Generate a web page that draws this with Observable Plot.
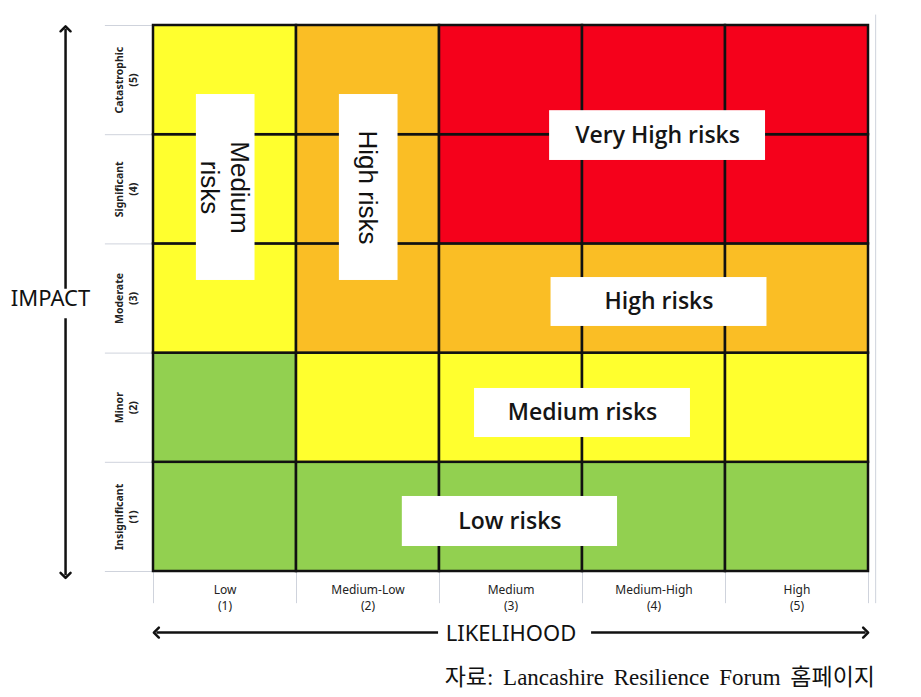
<!DOCTYPE html>
<html>
<head>
<meta charset="utf-8">
<script src="https://cdn.jsdelivr.net/npm/d3@7"></script>
<script src="https://cdn.jsdelivr.net/npm/@observablehq/plot@0.6"></script>
<style>
  html, body { margin: 0; padding: 0; background: white; }
  #caption {
    width: 921px; box-sizing: border-box; text-align: right; padding-right: 46px;
    font-family: "Liberation Serif", "Noto Sans CJK KR", serif; font-size: 23px;
    line-height: 26px; margin-top: 15px; word-spacing: 4px; color: #111;
  }
</style>
</head>
<body>
<div id="chart"></div>
<div id="caption">자료: Lancashire Resilience Forum 홈페이지</div>
<script>
// ---- data ----
const likelihood = ["Low", "Medium-Low", "Medium", "Medium-High", "High"];
const impact = ["Insignificant", "Minor", "Moderate", "Significant", "Catastrophic"];
// rows: impact 1..5, columns: likelihood 1..5
const riskGrid = [
  ["Low", "Low", "Low", "Low", "Low"],
  ["Low", "Medium", "Medium", "Medium", "Medium"],
  ["Medium", "High", "High", "High", "High"],
  ["Medium", "High", "Very High", "Very High", "Very High"],
  ["Medium", "High", "Very High", "Very High", "Very High"]
];
const levels = ["Low", "Medium", "High", "Very High"];
const levelColors = ["#92D050", "#FFFF2E", "#FABE25", "#F5011B"];
const zoneLabels = ["Medium\nrisks", "High risks", "Very High risks", "High risks", "Medium risks", "Low risks"];
// label boxes in (likelihood, impact) units
const zoneX1 = [0.80, 1.80, 3.27, 3.28, 2.745, 2.24];
const zoneX2 = [1.21, 2.21, 4.78, 4.79, 4.255, 3.745];
const zoneY1 = [3.165, 3.165, 4.264, 2.744, 1.727, 0.729];
const zoneY2 = [4.868, 4.868, 4.72, 3.192, 2.176, 1.187];
const zoneRotate = [90, 90, 0, 0, 0, 0];

// ---- derived tables ----
const cells = [];
riskGrid.forEach((row, i) => row.forEach((lvl, j) => cells.push({l: j + 1, im: i + 1, level: lvl})));
const zones = zoneLabels.map((t, k) => ({text: t, x1: zoneX1[k], x2: zoneX2[k], y1: zoneY1[k], y2: zoneY2[k], rotate: zoneRotate[k]}));
const vZones = zones.filter(d => d.rotate !== 0);
const hZones = zones.filter(d => d.rotate === 0);
const bounds = [0.5, 1.5, 2.5, 3.5, 4.5, 5.5];

// arrow decorations (in scale units)
const arrowSegs = [
  {x1: -0.115, y1: 3.09, x2: -0.115, y2: 5.47},
  {x1: -0.115, y1: 2.82, x2: -0.115, y2: 0.465},
  {x1: 2.49, y1: -0.059, x2: 0.52, y2: -0.059},
  {x1: 3.56, y1: -0.059, x2: 5.48, y2: -0.059}
];

const chart = Plot.plot({
  width: 921, height: 650,
  marginTop: 25, marginBottom: 79, marginLeft: 153, marginRight: 53,
  x: {domain: [0.5, 5.5], axis: null},
  y: {domain: [0.5, 5.5], axis: null},
  color: {domain: levels, range: levelColors},
  style: {fontFamily: "Noto Sans, sans-serif", background: "white", overflow: "visible", color: "#111"},
  marks: [
    // faint spreadsheet lines
    Plot.link(bounds, {x1: 0.16, x2: 0.5, y1: d => d, y2: d => d, stroke: "#cfd3dc", strokeWidth: 1, clip: false}),
    Plot.link(bounds, {x1: d => d, x2: d => d, y1: 0.5, y2: 0.21, stroke: "#cfd3dc", strokeWidth: 1, clip: false}),
    Plot.link([0], {x1: 5.55, x2: 5.55, y1: 5.6, y2: 0.21, stroke: "#cfd3dc", strokeWidth: 1, clip: false}),
    // cells
    Plot.rect(cells, {x1: d => d.l - 0.5, x2: d => d.l + 0.5, y1: d => d.im - 0.5, y2: d => d.im + 0.5,
      fill: "level", stroke: "#111", strokeWidth: 2.5}),
    // label boxes
    Plot.rect(zones, {x1: "x1", x2: "x2", y1: "y1", y2: "y2", fill: "white"}),
    Plot.text(hZones, {x: d => (d.x1 + d.x2) / 2, y: d => (d.y1 + d.y2) / 2, text: "text",
      fontFamily: "Open Sans, Noto Sans, sans-serif", fontSize: 23, fontWeight: 600, fill: "#151515"}),
    Plot.text(vZones, {x: d => (d.x1 + d.x2) / 2, y: d => (d.y1 + d.y2) / 2, text: "text", rotate: 90,
      fontFamily: "Liberation Sans, Arial, sans-serif", fontSize: 26, fill: "#111", lineHeight: 1.15}),
    // y tick labels
    Plot.text(impact, {y: (d, i) => i + 1, frameAnchor: "left", dx: -28, rotate: -90, textAnchor: "middle", lineAnchor: "middle",
      text: (d, i) => `${d}\n(${i + 1})`, fontSize: 10.5, fontWeight: "bold", lineHeight: 1.35, fill: "#222"}),
    // x tick labels
    Plot.text(likelihood, {x: (d, i) => i + 1, frameAnchor: "bottom", dy: 25, lineAnchor: "middle", textAnchor: "middle",
      text: (d, i) => `${d}\n(${i + 1})`, fontSize: 12, lineHeight: 1.35, fill: "#222"}),
    // axis titles
    Plot.text(["IMPACT"], {frameAnchor: "left", dx: -103, textAnchor: "middle", lineAnchor: "middle", fontSize: 22, fill: "#111"}),
    Plot.text(["LIKELIHOOD"], {frameAnchor: "bottom", dy: 62, textAnchor: "middle", lineAnchor: "middle", fontSize: 22, fill: "#111"}),
    // arrows
    Plot.link(arrowSegs, {x1: "x1", y1: "y1", x2: "x2", y2: "y2", stroke: "#111", strokeWidth: 2.5,
      markerEnd: "arrow", clip: false})
  ]
});
document.getElementById("chart").appendChild(chart);
</script>
</body>
</html>
